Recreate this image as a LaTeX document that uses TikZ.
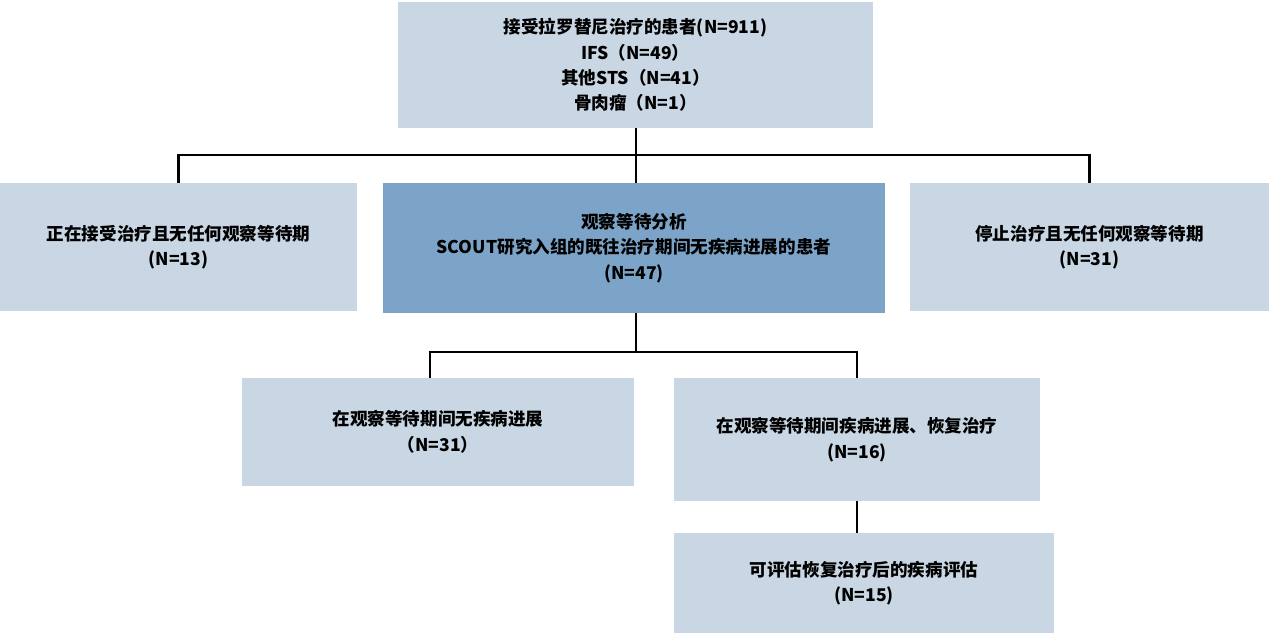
\documentclass[tikz,border=0pt]{standalone}
\usepackage{fontspec}
\setmainfont{Noto Sans CJK SC}
\usetikzlibrary{positioning}
\definecolor{boxgray}{HTML}{C9D6E3}
\definecolor{boxblue}{HTML}{7CA4C8}
\tikzstyle{block} = [rectangle, fill=boxgray, text centered, align=center, inner sep=0pt, font=\bfseries\fontsize{10}{14.5}\selectfont]
\tikzstyle{line} = [line width=1.3pt]
\begin{document}
\begin{tikzpicture}[x=0.02cm, y=-0.02cm]
    \useasboundingbox (0,0) rectangle (1269,642);
    \node (top) [block, minimum width=475*0.02cm, minimum height=126*0.02cm] at (635.5,65) {接受拉罗替尼治疗的患者(N=911)\\IFS（N=49）\\其他STS（N=41）\\骨肉瘤（N=1）};
    \node (left) [block, minimum width=357*0.02cm, minimum height=128*0.02cm] at (178.5,247) {正在接受治疗且无任何观察等待期\\(N=13)};
    \node (mid) [block, fill=boxblue, minimum width=502*0.02cm, minimum height=130*0.02cm] at (634,248) {观察等待分析\\SCOUT研究入组的既往治疗期间无疾病进展的患者\\(N=47)};
    \node (right) [block, minimum width=359*0.02cm, minimum height=128*0.02cm] at (1089.5,247) {停止治疗且无任何观察等待期\\(N=31)};
    \node (noprog) [block, minimum width=392*0.02cm, minimum height=108*0.02cm] at (438,432) {在观察等待期间无疾病进展\\（N=31）};
    \node (prog) [block, minimum width=366*0.02cm, minimum height=123*0.02cm] at (857,439.5) {在观察等待期间疾病进展、恢复治疗\\(N=16)};
    \node (eval) [block, minimum width=380*0.02cm, minimum height=100*0.02cm] at (864,583) {可评估恢复治疗后的疾病评估\\(N=15)};
    \coordinate (split1) at (636,155);
    \coordinate (split2) at (636,352);
    \draw [line] (top.south -| split1) -- (split1);
    \draw [line] (left.north) |- (split1) -| (right.north);
    \draw [line] (split1) -- (mid.north -| split1);
    \draw [line] (mid.south -| split2) -- (split2);
    \draw [line] (noprog.north -| 430,0) |- (split2) -| (prog.north);
    \draw [line] (prog.south) -- (eval.north -| prog.south);
\end{tikzpicture}
\end{document}
